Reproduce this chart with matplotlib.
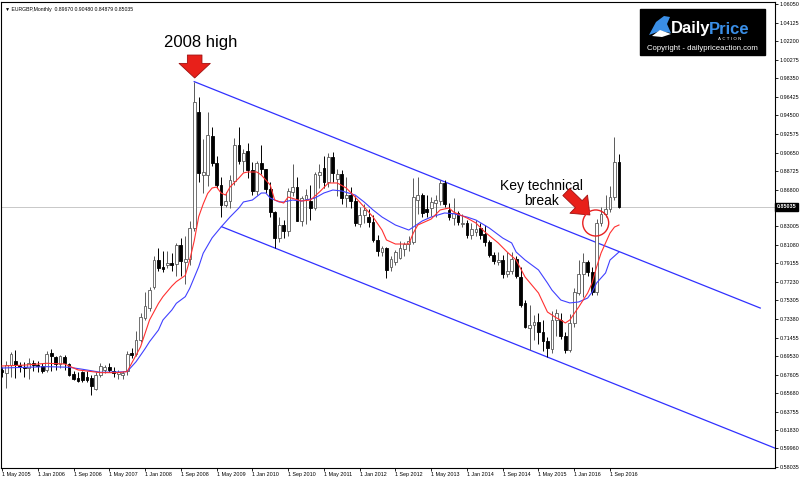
import matplotlib
matplotlib.use("Agg")
import matplotlib.pyplot as plt
from matplotlib.patches import Rectangle, Ellipse, Polygon

# monthly EURGBP candles, index 0 = May 2005 ... 138 = Nov 2016
opens = [
    .6810, .6780, .6860, .6900, .6860, .6840, .6830, .6880,
    .6860, .6850, .6810, .6990, .6940, .6870, .6940, .6870, .6770, .6730, .6790, .6740,
    .6730, .6610, .6760, .6810, .6840, .6800, .6770, .6760, .6800, .6985, .6980, .7120,
    .7350, .7450, .7670, .7950, .7880, .7900, .7920, .7910, .8110, .7930, .7960, .8280,
    .9490, .8830, .8830, .9240, .8960, .8730, .8520, .8560, .8770, .9140, .8980, .9080,
    .8880, .8670, .8960, .8890, .8690, .8450, .8180, .8310, .8250, .8660, .8710, .8350,
    .8580, .8560, .8490, .8830, .8900, .8760, .9020, .8790, .8840, .8590, .8620, .8560,
    .8320, .8420, .8400, .8340, .8160, .8030, .8070, .7880, .7930, .7970, .8060, .8120,
    .8140, .8570, .8620, .8480, .8490, .8540, .8560, .8750, .8470, .8390, .8440, .8320,
    .8330, .8210, .8240, .8280, .8220, .8140, .8000, .7930, .7950, .7800, .7840, .7960,
    .7770, .7500, .7250, .7280, .7310, .7200, .7110, .7030, .7330, .7330, .7160, .7020,
    .7300, .7610, .7810, .7930, .7830, .7620, .8330, .8430, .8480, .8600, .8967,
]
highs = [
    .6840, .6900, .7000, .7020, .6890, .6890, .6930, .6910,
    .6900, .6880, .7010, .7030, .6950, .6970, .6960, .6880, .6800, .6790, .6800, .6800,
    .6760, .6790, .6880, .6860, .6880, .6840, .6810, .6800, .7010, .7040, .7210, .7400,
    .7620, .7670, .7990, .8070, .8040, .8040, .8020, .8130, .8180, .8200, .8350, .9800,
    .9640, .9200, .9490, .9330, .9030, .8810, .8660, .8830, .9220, .9330, .9100, .9160,
    .8970, .8980, .9140, .8890, .8760, .8460, .8400, .8360, .8700, .8950, .8810, .8610,
    .8690, .8730, .8860, .8950, .9030, .9060, .9070, .8890, .8880, .8810, .8710, .8610,
    .8500, .8530, .8480, .8420, .8210, .8100, .8090, .7990, .8050, .8150, .8140, .8200,
    .8800, .8810, .8640, .8620, .8600, .8620, .8780, .8780, .8540, .8590, .8460, .8430,
    .8360, .8330, .8370, .8330, .8310, .8160, .8030, .8030, .8000, .8030, .8030, .7990,
    .7880, .7540, .7480, .7380, .7400, .7330, .7150, .7420, .7440, .7400, .7200, .7390,
    .7660, .7950, .8020, .7950, .7880, .8380, .8500, .8620, .8720, .9230, .9048,
]
lows = [
    .6740, .6620, .6740, .6730, .6790, .6740, .6720, .6800,
    .6790, .6780, .6790, .6800, .6810, .6830, .6810, .6750, .6710, .6680, .6690, .6690,
    .6550, .6600, .6740, .6780, .6790, .6740, .6720, .6720, .6760, .6930, .6950, .7100,
    .7330, .7420, .7650, .7840, .7830, .7870, .7840, .7780, .7780, .7700, .7900, .8250,
    .8760, .8650, .8720, .8930, .8700, .8400, .8500, .8490, .8730, .8950, .8860, .8800,
    .8620, .8620, .8840, .8640, .8400, .8070, .8140, .8180, .8200, .8610, .8350, .8300,
    .8320, .8370, .8470, .8700, .8700, .8710, .8760, .8610, .8530, .8500, .8490, .8300,
    .8290, .8330, .8290, .8140, .7990, .7990, .7760, .7840, .7900, .7960, .7990, .8040,
    .8120, .8430, .8400, .8400, .8410, .8400, .8520, .8500, .8360, .8310, .8310, .8290,
    .8180, .8170, .8200, .8170, .8100, .7980, .7910, .7900, .7760, .7770, .7800, .7760,
    .7460, .7240, .7020, .7120, .7080, .7010, .6940, .6990, .7160, .7130, .6990, .7000,
    .7260, .7590, .7570, .7780, .7590, .7590, .8300, .8400, .8450, .8570, .8488,
]
closes = [
    .6790, .6860, .6980, .6860, .6840, .6830, .6880, .6860,
    .6850, .6800, .6980, .6950, .6870, .6950, .6880, .6760, .6720, .6700, .6710, .6710,
    .6640, .6760, .6850, .6840, .6810, .6780, .6790, .6780, .6980, .6965, .7120, .7360,
    .7470, .7640, .7950, .7870, .7860, .7915, .7900, .8110, .7940, .7960, .8280, .9590,
    .8850, .8860, .9250, .8960, .8730, .8520, .8560, .8780, .9140, .8980, .9060, .8880,
    .8670, .8960, .8890, .8690, .8450, .8180, .8310, .8250, .8670, .8710, .8350, .8590,
    .8620, .8490, .8840, .8860, .8760, .9020, .8850, .8840, .8590, .8620, .8560, .8330,
    .8420, .8470, .8340, .8160, .8040, .8070, .7850, .7960, .8030, .8070, .8120, .8150,
    .8600, .8620, .8440, .8450, .8550, .8570, .8750, .8530, .8400, .8440, .8340, .8330,
    .8210, .8270, .8270, .8210, .8140, .8000, .7940, .7950, .7800, .7840, .7960, .7780,
    .7480, .7260, .7280, .7310, .7200, .7110, .7040, .7330, .7400, .7160, .7020, .7300,
    .7620, .7810, .7930, .7830, .7620, .8330, .8430, .8480, .8600, .8970, .8504,
]

# moving averages (month index, price)
red_ma_month = [0, 5, 10, 14, 17, 22, 26, 28, 29, 31, 33, 35, 36, 38, 39, 41, 42, 43, 44, 45,
                46, 47, 48, 49, 50, 51, 53, 54, 55, 57, 58, 60, 61, 63, 64, 67, 69, 71, 73, 75,
                77, 79, 81, 83, 85, 86, 88, 91, 92, 93, 96, 98, 100, 101, 104, 106, 108, 111,
                113, 115, 117, 120, 122, 124, 125, 126, 127, 129, 131, 132, 133, 134, 136, 137, 138]
red_ma = [.6851, .6860, .6879, .6872, .6810, .6782, .6782, .6793, .6879, .7050, .7328, .7500,
          .7570, .7680, .7726, .7790, .7950, .8150, .8400, .8530, .8640, .8697, .8707, .8645,
          .8624, .8707, .8801, .8853, .8863, .8863, .8832, .8728, .8572, .8541, .8603, .8562,
          .8572, .8655, .8749, .8749, .8697, .8603, .8500, .8396, .8261, .8158, .8116, .8116,
          .8230, .8313, .8375, .8469, .8490, .8448, .8386, .8334, .8241, .8127, .8033, .7950,
          .7774, .7608, .7411, .7350, .7328, .7297, .7328, .7463, .7608, .7712, .7878, .8023,
          .8230, .8292, .8313]
blue_ma_month = [0, 10, 15, 18, 22, 27, 28, 30, 32, 33, 35, 36, 38, 39, 41, 42, 44, 45, 47, 49,
                 51, 53, 54, 56, 58, 59, 60, 62, 63, 65, 67, 70, 72, 74, 76, 79, 81, 83, 85, 88,
                 91, 92, 94, 96, 99, 101, 104, 106, 109, 112, 114, 115, 117, 120, 122, 123, 125,
                 127, 129, 131, 132, 133, 135, 136, 138]
blue_ma = [.6830, .6844, .6838, .6817, .6786, .6790, .6793, .6896, .7030, .7103, .7224, .7328,
           .7432, .7501, .7570, .7657, .7880, .8020, .8180, .8292, .8396, .8490, .8552, .8572,
           .8645, .8645, .8593, .8552, .8552, .8572, .8562, .8593, .8645, .8676, .8666, .8624,
           .8552, .8469, .8396, .8313, .8261, .8292, .8355, .8396, .8438, .8430, .8396, .8365,
           .8282, .8178, .8127, .8033, .7950, .7847, .7712, .7639, .7535, .7505, .7515, .7556,
           .7618, .7712, .7816, .7950, .8033]

# trend channel (month index, price)
upper_month = [43, 169.6]
upper_price = [0.9800, 0.7452]
lower_month = [49.1, 172.9]
lower_price = [0.8296, 0.5999]

last_price = 0.85035
xtick_labels = ["1 May 2005", "1 Jan 2006", "1 Sep 2006", "1 May 2007", "1 Jan 2008",
                "1 Sep 2008", "1 May 2009", "1 Jan 2010", "1 Sep 2010", "1 May 2011",
                "1 Jan 2012", "1 Sep 2012", "1 May 2013", "1 Jan 2014", "1 Sep 2014",
                "1 May 2015", "1 Jan 2016", "1 Sep 2016"]
ytick_labels = ["1.06050", "1.04125", "1.02200", "1.00275", "0.98350", "0.96425", "0.94500",
                "0.92575", "0.90650", "0.88725", "0.86800", "0.83005", "0.81080", "0.79155",
                "0.77230", "0.75305", "0.73380", "0.71455", "0.69530", "0.67605", "0.65680",
                "0.63755", "0.61830", "0.59960", "0.58035"]

W, H = 800, 479
fig = plt.figure(figsize=(W / 100, H / 100), dpi=100)
ax = fig.add_axes([1 / W, 11 / H, 774 / W, 466 / H])
ax.set_xlim(-0.22, 172.9)
ax.set_ylim(0.5793, 1.0626)

small = dict(family=["Liberation Sans", "DejaVu Sans"], size=3.9)

# candles
body_w = 0.62
for i, (o, h, l, c) in enumerate(zip(opens, highs, lows, closes)):
    bull = c >= o
    col = "#5a5a5a" if bull else "black"
    ax.vlines(i, l, h, color=col, lw=0.7, zorder=3)
    lo, hi = min(o, c), max(o, c)
    ax.add_patch(Rectangle((i - body_w / 2, lo), body_w, max(hi - lo, 0.0006),
                           fc="white" if bull else "black", ec=col, lw=0.6, zorder=4))

ax.plot(blue_ma_month, blue_ma, color="#4040ff", lw=0.8, zorder=5)
ax.plot(red_ma_month, red_ma, color="#ff3030", lw=0.8, zorder=5)
ax.plot(upper_month, upper_price, color="#3030ff", lw=0.9, zorder=2)
ax.plot(lower_month, lower_price, color="#3030ff", lw=0.9, zorder=2)
ax.axhline(last_price, color="#c8c8c8", lw=0.7, zorder=1)

# axes styling
for s in ax.spines.values():
    s.set_linewidth(0.8)
ax.yaxis.tick_right()
yvals = [float(t) for t in ytick_labels]
ax.set_yticks(yvals)
ax.set_yticklabels(ytick_labels, **small)
ax.set_xticks(range(0, 8 * len(xtick_labels), 8))
ax.set_xticklabels(xtick_labels, ha="left", **small)
ax.tick_params(axis="both", length=2.2, width=0.6, pad=1.0)

# current price tag
ax.text(1.002, last_price, "0.85035", transform=ax.get_yaxis_transform(), color="white",
        va="center", ha="left", fontweight="bold",
        bbox=dict(boxstyle="square,pad=0.25", fc="black", ec="black"), **small)

# header
fig.text(5 / W, 1 - 9 / H, "\u25bc EURGBP,Monthly  0.89670 0.90480 0.84879 0.85035",
         va="center", ha="left", family=["Liberation Sans", "DejaVu Sans"], size=3.7)

# annotations
ax.text(44.5, 1.0211, "2008 high", ha="center", va="center", fontsize=12,
        family="Liberation Sans")
ax.annotate("", xy=(43.1, 0.9838), xytext=(43.1, 1.0076),
            arrowprops=dict(arrowstyle="simple,head_width=1.5,head_length=0.7,tail_width=0.7",
                            fc="#e8201a", ec="#a01010", lw=0.6, shrinkA=0, shrinkB=0,
                            mutation_scale=15))
ax.text(120.6, 0.8640, "Key technical\nbreak", ha="center", va="center", fontsize=10,
        family="Liberation Sans", linespacing=1.05)
ax.annotate("", xy=(131.5, 0.8417), xytext=(126.2, 0.8655),
            arrowprops=dict(arrowstyle="simple,head_width=1.3,head_length=0.8,tail_width=0.5",
                            fc="#e8201a", ec="#a01010", lw=0.6, shrinkA=0, shrinkB=0,
                            mutation_scale=14))
ax.add_patch(Ellipse((132.8, 0.8334), 5.8, 0.027, fill=False, ec="#e82020", lw=1.0, zorder=6))

# logo box (pixel coords)
def px(x, y):
    return x / W, 1 - y / H

lx, ly = px(640, 55)
fig.patches.append(Rectangle((lx, ly), 125 / W, 46 / H, transform=fig.transFigure,
                             fc="black", ec="black", zorder=10))
icon = [px(649, 35), px(656, 22), px(664, 16), px(670, 17), px(667, 24), px(671, 33),
        px(660, 31)]
fig.patches.append(Polygon(icon, closed=True, transform=fig.transFigure,
                           fc="#3a8ee6", ec="none", zorder=11))
fig.patches.append(Polygon([px(652, 36), px(660, 30), px(671, 34), px(662, 37)], closed=True,
                           transform=fig.transFigure, fc="white", ec="none", zorder=11))
fig.text(*px(671, 29), "Daily", color="white", fontsize=12, fontweight="bold",
         family="Liberation Sans", va="center", ha="left", zorder=12)
fig.text(*px(709, 29), "Price", color="#3a8ee6", fontsize=12, fontweight="bold",
         family="Liberation Sans", va="center", ha="left", zorder=12)
fig.text(*px(730, 39.5), "A C T I O N", color="white", fontsize=3.2,
         family="DejaVu Sans", va="center", ha="center", zorder=12)
fig.text(*px(702, 48), "Copyright - dailypriceaction.com", color="white", fontsize=5.6,
         family="Liberation Sans", va="center", ha="center", zorder=12)

fig.savefig("out.png", dpi=100)
